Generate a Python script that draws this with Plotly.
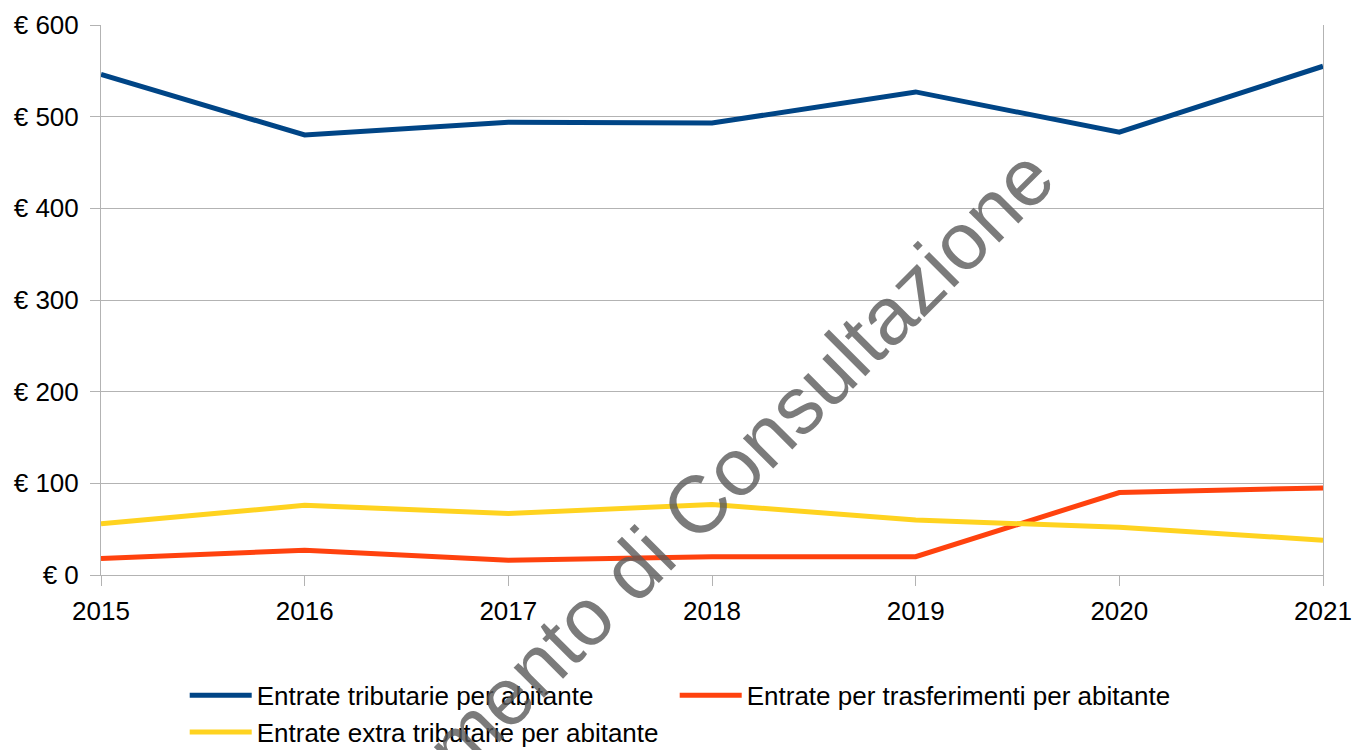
import plotly.graph_objects as go

years = [2015, 2016, 2017, 2018, 2019, 2020, 2021]
tributarie = [546, 480, 494, 493, 527, 483, 555]
trasferimenti = [18, 27, 16, 20, 20, 90, 95]
extra_tributarie = [56, 76, 67, 77, 60, 52, 38]

series = [
    ("Entrate tributarie per abitante", tributarie, "#004586", "legend"),
    ("Entrate per trasferimenti per abitante", trasferimenti, "#ff420e", "legend2"),
    ("Entrate extra tributarie per abitante", extra_tributarie, "#ffd320", "legend"),
]

font = "Liberation Sans, Arial, sans-serif"
grid = "#b3b3b3"
halo = "1px 1px 1px white, -1px -1px 1px white, 1px -1px 1px white, -1px 1px 1px white"

fig = go.Figure()
for name, values, color, leg in series:
    fig.add_trace(
        go.Scatter(x=years, y=values, name=name, mode="lines",
                   line=dict(color=color, width=5), legend=leg)
    )

legend_style = dict(
    orientation="v",
    xanchor="left",
    y=-0.176,
    yanchor="top",
    itemwidth=62,
    font=dict(size=26, shadow=halo),
    bgcolor="rgba(0,0,0,0)",
    tracegroupgap=0,
)

fig.update_layout(
    width=1355,
    height=750,
    margin=dict(l=101, r=32, t=25, b=175, autoexpand=False),
    paper_bgcolor="white",
    plot_bgcolor="white",
    font=dict(family=font, size=26, color="black"),
    showlegend=True,
    legend=dict(x=0.0685, **legend_style),
    legend2=dict(x=0.0685 + 490 / 1222, **legend_style),
)

fig.update_xaxes(
    range=[2015, 2021],
    tickmode="array",
    tickvals=years,
    ticktext=[str(y) for y in years],
    showgrid=False,
    zeroline=False,
    showline=True,
    linecolor=grid,
    linewidth=1,
    ticks="outside",
    ticklen=10,
    tickcolor=grid,
    ticklabelstandoff=3,
    automargin=False,
)

fig.update_yaxes(
    range=[0, 600],
    dtick=100,
    tickprefix="€ ",
    showgrid=True,
    gridcolor=grid,
    gridwidth=1,
    zeroline=False,
    showline=True,
    mirror=True,
    linecolor=grid,
    linewidth=1,
    ticks="outside",
    ticklen=10,
    tickcolor=grid,
    ticklabelstandoff=6,
    automargin=False,
)

# filigrana
fig.add_annotation(
    text="Documento di Consultazione",
    xref="paper",
    yref="paper",
    x=0.468,
    y=0.084,
    xanchor="center",
    yanchor="middle",
    showarrow=False,
    textangle=-45,
    font=dict(family=font, size=81, color="rgba(90,90,90,0.8)"),
)

fig.write_html(
    "out.html",
    config={"displayModeBar": False},
    post_script="document.body.style.margin='0';document.body.style.overflow='hidden';",
)
